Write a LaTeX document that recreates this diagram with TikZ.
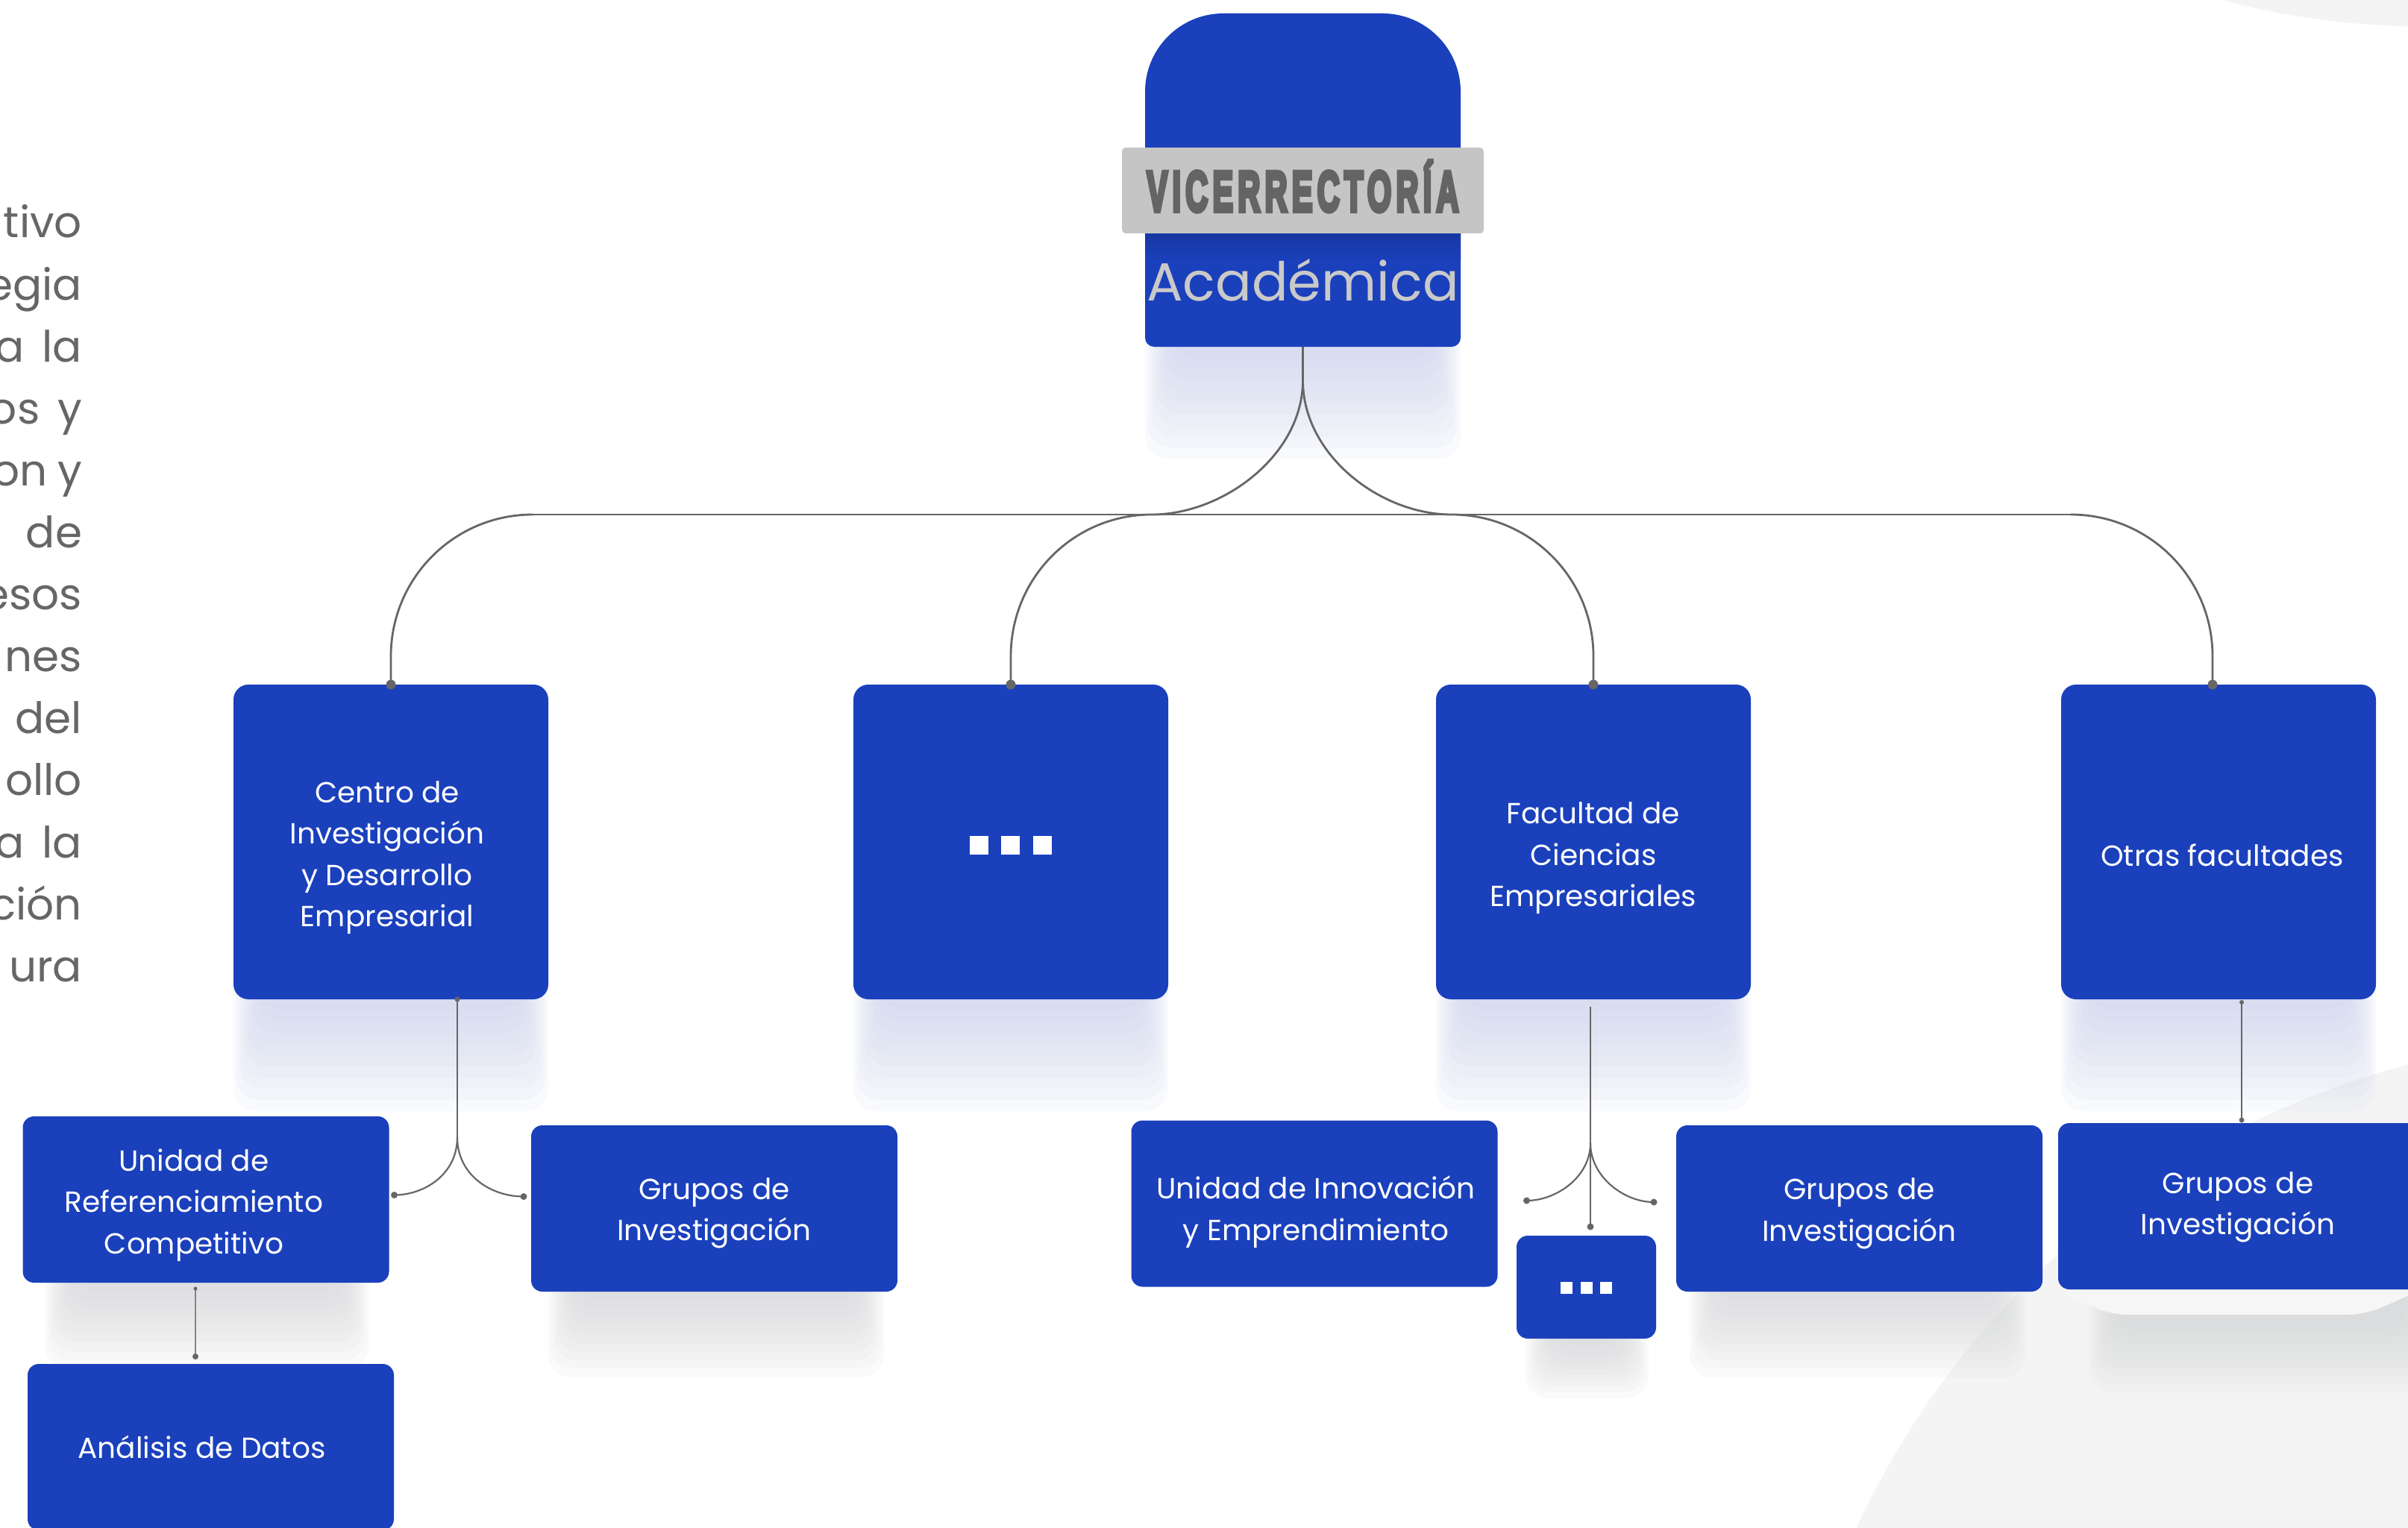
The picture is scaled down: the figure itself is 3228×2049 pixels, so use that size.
\documentclass[tikz,border=0pt]{standalone}
\usepackage{fontspec}
\setmainfont{Poppins}
\newfontfamily\vicefont{Liberation Sans}[BoldFeatures={FakeBold=8,LetterSpace=15}]
\usetikzlibrary{calc}
\definecolor{ublue}{HTML}{1A40BC}
\definecolor{linegray}{HTML}{666666}
\definecolor{txtgray}{HTML}{666666}
\definecolor{bandgray}{HTML}{C5C5C5}
\definecolor{vicegray}{HTML}{646464}
\definecolor{acadgray}{HTML}{C9C9C9}
\definecolor{bgpale}{HTML}{F4F4F4}
\definecolor{cardpale}{HTML}{F6F6F6}
\definecolor{lavsh}{HTML}{C9D1EC}
\definecolor{graysh}{HTML}{D3D4D6}
\newcommand{\softshadow}[5]{%
  \foreach \k in {0,...,9}{
    \fill[#5, opacity=0.1, rounded corners=30pt] ({#1+4*\k},{#3-40}) rectangle ({#2-4*\k},{#3+#4*(1-\k/10)});
  }%
}
\begin{document}
\begin{tikzpicture}[x=1pt,y=-1pt,
  every node/.style={inner sep=0pt, outer sep=0pt},
  l1box/.style={rectangle, rounded corners=20pt, fill=ublue, minimum width=422pt, minimum height=422pt},
  l2box/.style={rectangle, rounded corners=15pt, fill=ublue, minimum width=491pt, minimum height=223pt},
  boxtxt/.style={text=white, align=center, font=\fontsize{39}{55.5}\selectfont},
  conn/.style={draw=linegray, line width=2.8pt},
  conn2/.style={draw=linegray, line width=2.2pt},
  conn3/.style={draw=linegray!80, line width=1.6pt},
  para/.style={anchor=base east, text=txtgray, font=\fontsize{58}{58}\selectfont}]
\useasboundingbox (0,0) rectangle (3228,2049);
\fill[white] (0,0) rectangle (3228,2049);
% background shapes
\fill[bgpale] (3518,2523) circle[radius=1133pt];
\fill[bgpale] (2966,-4) .. controls (3030,15) and (3120,33) .. (3240,36) -- (3240,-4) -- cycle;
% left paragraph fragments
\foreach \t [count=\i from 0] in {tivo, egia, a\hspace{24pt}la, os\hspace{24pt}y, on\hspace{14pt}y, de, esos, nes, del, ollo, a\hspace{24pt}la, ción, ura}{
  \node[para] (p\i) at (110,{319+83.1*\i}) {\t};
}
% shadows
\softshadow{1535}{1958}{465}{150}{lavsh}
\softshadow{313}{735}{1340}{150}{lavsh}
\softshadow{1144}{1566}{1340}{150}{lavsh}
\softshadow{1925}{2347}{1340}{150}{lavsh}
\softshadow{2763}{3185}{1340}{150}{lavsh}
\softshadow{60}{495}{1720}{115}{graysh}
\softshadow{735}{1185}{1732}{115}{graysh}
\softshadow{2265}{2715}{1732}{115}{graysh}
\softshadow{2045}{2210}{1795}{80}{graysh}
\softshadow{2800}{3260}{1762}{105}{graysh}
\fill[cardpale, rounded corners=22pt] (2759,1690) -- (2759,1732) -- (2830,1763) -- (3170,1763) -- (3250,1728) -- (3250,1690) -- cycle;
% top box
\node[minimum width=423pt, minimum height=447pt] (T) at (1746.5,241.5) {};
\fill[ublue] (T.west) [rounded corners=105pt] -- (T.north west) -- (T.north east) -- (T.east) [rounded corners=12pt] -- (T.south east) -- (T.south west) -- cycle;
\shade[top color=ublue!86!black, bottom color=ublue] (1535,312) rectangle (1958,350);
\node[fill=bandgray, rounded corners=5pt, minimum width=485pt, minimum height=115pt] (band) at (1746.5,255.5) {};
\node[anchor=base, text=vicegray, font=\vicefont\bfseries\fontsize{76}{76}\selectfont] (vice) at (1746.5,283) {\resizebox{418pt}{\height}{VICERRECTORÍA}};
\node[anchor=base, text=acadgray, font=\fontsize{72}{72}\selectfont] (acad) at (1746.5,403) {Académica};
% level 1 boxes
\node[l1box, label={[boxtxt, xshift=-5pt, yshift=-21pt]center:Centro de\\Investigación\\y Desarrollo\\Empresarial}] (A) at (524,1129) {};
\node[l1box, label={[yshift=-4.5pt]center:{\color{white}\rule{25pt}{25pt}\hspace{17pt}\rule{25pt}{25pt}\hspace{18pt}\rule{25pt}{25pt}}}] (B) at (1355,1129) {};
\node[l1box, label={[boxtxt, yshift=-22pt]center:Facultad de\\Ciencias\\Empresariales}] (C) at (2136,1129) {};
\node[l1box, label={[boxtxt, xshift=5pt, yshift=-18pt]center:Otras facultades}] (D) at (2974,1129) {};
% level 2 boxes
\node[l2box, label={[boxtxt, xshift=-16pt, yshift=-7.5pt]center:Unidad de\\Referenciamiento\\Competitivo}] (URC) at (276,1608.5) {};
\node[l2box, label={[boxtxt, yshift=-6.5pt]center:Grupos de\\Investigación}] (GA) at (957.5,1620.5) {};
\node[l2box, label={[boxtxt, xshift=-12pt]center:Análisis de Datos}] (AD) at (282.5,1940.5) {};
\node[l2box, label={[boxtxt, xshift=2pt, yshift=-11pt]center:Unidad de Innovación\\y Emprendimiento}] (UIE) at (1762,1614) {};
\node[rectangle, rounded corners=15pt, fill=ublue, minimum width=187pt, minimum height=138pt, label={[yshift=-0.5pt]center:{\color{white}\rule{16pt}{16pt}\hspace{11pt}\rule{16pt}{16pt}\hspace{10pt}\rule{16pt}{16pt}}}] (SD) at (2126.5,1726) {};
\node[l2box, label={[boxtxt, yshift=-7pt]center:Grupos de\\Investigación}] (GC) at (2492.5,1620.5) {};
\node[l2box, label={[boxtxt, xshift=-4.5pt, yshift=-1.5pt]center:Grupos de\\Investigación}] (GD) at (3004.5,1617.5) {};
% main connectors
\coordinate (dN) at ($(D.north)+(-8,0)$);
\coordinate (split) at ($(T.south)+(0,45)$);
\coordinate (hL) at ($(B.north)+(189,-228)$);
\coordinate (hR) at ($(C.north)+(-190,-228)$);
\coordinate (hA) at ($(A.north)+(190,-228)$);
\coordinate (hD) at ($(dN)+(-190,-228)$);
\draw[conn] (T.south) -- (split);
\draw[conn] (split) .. controls +(0,100) and +(96,0) .. (hL);
\draw[conn] (split) .. controls +(0,100) and +(-96,0) .. (hR);
\draw[conn] (hA) -- (hD);
\draw[conn] (hA) .. controls +(-105,0) and +(0,-105) .. ($(A.north)+(0,-38)$) -- (A.north);
\draw[conn] (hL) .. controls +(-105,0) and +(0,-105) .. ($(B.north)+(0,-38)$) -- (B.north);
\draw[conn] (hR) .. controls +(105,0) and +(0,-105) .. ($(C.north)+(0,-38)$) -- (C.north);
\draw[conn] (hD) .. controls +(105,0) and +(0,-105) .. ($(dN)+(0,-38)$) -- (dN);
\foreach \n in {A.north,B.north,C.north,dN}{\fill[linegray] (\n) circle[radius=6.5pt];}
% A children
\coordinate (aTop) at ($(A.south)+(89,0)$);
\coordinate (aSplit) at ($(aTop)+(0,185)$);
\coordinate (aL) at ($(URC.east)+(7,-6)$);
\coordinate (aR) at ($(GA.west)+(-10,-16)$);
\draw[conn2] (aTop) -- (aSplit);
\draw[conn2] (aSplit) .. controls +(0,50) and +(40,0) .. (aL);
\draw[conn2] (aSplit) .. controls +(0,50) and +(-45,0) .. (aR);
\fill[linegray] (aTop) circle[radius=3.5pt] (aL) circle[radius=4.5pt] (aR) circle[radius=4.5pt];
\coordinate (u1) at ($(URC.south)+(-14,8)$);
\coordinate (u2) at ($(AD.north)+(-20.5,-10)$);
\draw[conn3] (u1) -- (u2);
\fill[linegray] (u1) circle[radius=2.5pt] (u2) circle[radius=4pt];
% C children
\coordinate (cTop) at ($(C.south)+(-4,10)$);
\coordinate (cSplit) at ($(cTop)+(0,183)$);
\coordinate (cEnd) at ($(SD.north)+(5.5,-12)$);
\coordinate (cL) at ($(UIE.east)+(39,-4)$);
\coordinate (cR) at ($(GC.west)+(-30,-8.5)$);
\draw[conn2] (cTop) -- (cEnd);
\draw[conn2] (cSplit) .. controls +(0,45) and +(40,0) .. (cL);
\draw[conn2] (cSplit) .. controls +(0,45) and +(-40,0) .. (cR);
\fill[linegray] (cL) circle[radius=4.5pt] (cR) circle[radius=4.5pt] (cEnd) circle[radius=4.5pt];
% D children
\coordinate (dTop) at ($(D.south)+(31,4)$);
\coordinate (dEnd) at ($(GD.north)+(0.5,-4)$);
\draw[conn2] (dTop) -- (dEnd);
\fill[linegray] (dTop) circle[radius=3pt] (dEnd) circle[radius=3.5pt];
\end{tikzpicture}
\end{document}
